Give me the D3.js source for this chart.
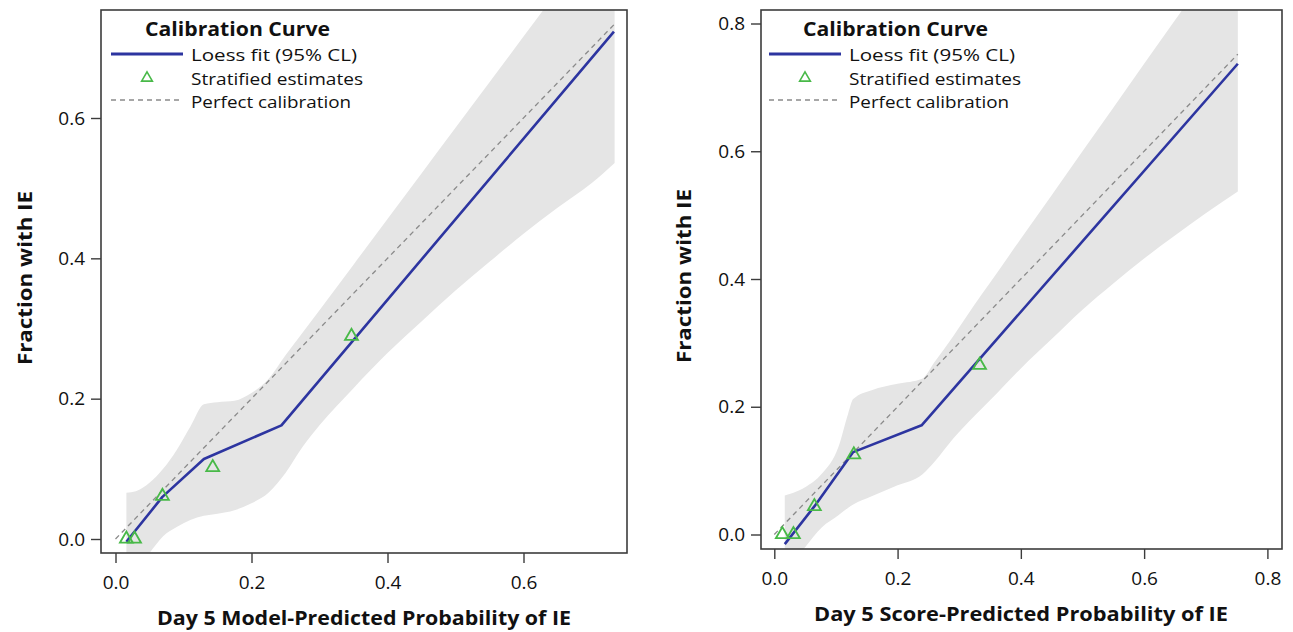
<!DOCTYPE html>
<html><head><meta charset="utf-8">
<script src="https://cdn.jsdelivr.net/npm/d3@7"></script>
<style>
body{margin:0;background:#fff;}
svg{display:block;font-family:"Open Sans",sans-serif;}
</style></head>
<body><svg id="c" width="1293" height="632"></svg>
<script>
// ---------- data ----------
const legendTitle = "Calibration Curve";
const legendLabels = ["Loess fit (95% CL)", "Stratified estimates", "Perfect calibration"];
const yTitle = "Fraction with IE";
const xTitleLeft = "Day 5 Model-Predicted Probability of IE";
const xTitleRight = "Day 5 Score-Predicted Probability of IE";

const xTicksLeft = [0, 0.2, 0.4, 0.6];
const yTicksLeft = [0, 0.2, 0.4, 0.6];
const xTicksRight = [0, 0.2, 0.4, 0.6, 0.8];
const yTicksRight = [0, 0.2, 0.4, 0.6, 0.8];

// Left panel (model)
const leftFitX = [0.016, 0.069, 0.130, 0.244, 0.733];
const leftFitY = [-0.004, 0.060, 0.114, 0.162, 0.723];
const leftPtsX = [0.016, 0.028, 0.069, 0.143, 0.347];
const leftPtsY = [0.0, 0.0, 0.061, 0.102, 0.289];
const leftBandX = [0.016, 0.03, 0.05, 0.07, 0.09, 0.11, 0.13, 0.15, 0.175, 0.20, 0.225, 0.25, 0.275, 0.30, 0.35, 0.40, 0.45, 0.50, 0.55, 0.60, 0.65, 0.70, 0.734];
const leftUpper = [0.066, 0.068, 0.080, 0.100, 0.127, 0.160, 0.192, 0.195, 0.197, 0.208, 0.228, 0.262, 0.294, 0.326, 0.391, 0.456, 0.521, 0.586, 0.651, 0.716, 0.781, 0.846, 0.890];
const leftLower = [-0.07, -0.045, -0.020, 0.004, 0.017, 0.027, 0.033, 0.036, 0.041, 0.051, 0.066, 0.094, 0.131, 0.162, 0.215, 0.265, 0.310, 0.354, 0.395, 0.435, 0.472, 0.507, 0.536];
const leftDiag = [0, 0.734];

// Right panel (score)
const rightFitX = [0.017, 0.065, 0.128, 0.239, 0.752];
const rightFitY = [-0.015, 0.044, 0.129, 0.171, 0.737];
const rightPtsX = [0.013, 0.031, 0.065, 0.129, 0.333];
const rightPtsY = [0.0, 0.0, 0.044, 0.125, 0.265];
const rightBandX = [0.017, 0.03, 0.05, 0.077, 0.104, 0.12, 0.128, 0.158, 0.20, 0.24, 0.26, 0.29, 0.325, 0.35, 0.40, 0.45, 0.50, 0.55, 0.60, 0.65, 0.70, 0.752];
const rightUpper = [0.061, 0.065, 0.074, 0.095, 0.137, 0.190, 0.212, 0.226, 0.236, 0.244, 0.270, 0.310, 0.360, 0.394, 0.463, 0.531, 0.600, 0.668, 0.737, 0.805, 0.874, 0.945];
const rightLower = [-0.07, -0.045, -0.020, 0.011, 0.030, 0.042, 0.047, 0.060, 0.077, 0.094, 0.114, 0.150, 0.186, 0.210, 0.260, 0.306, 0.352, 0.393, 0.432, 0.468, 0.503, 0.537];
const rightDiag = [0, 0.752];

// ---------- drawing ----------
const svg = d3.select("#c");
const BLUE = "#2d35a0", GREEN = "#48b948", BAND = "#e5e5e5", DASH = "#8a8a8a";

const panels = [
  {id:"L", frame:{l:101, r:627, t:10, b:553},
   x:d3.scaleLinear().domain([0,0.6]).range([115.5,523.5]),
   y:d3.scaleLinear().domain([0,0.6]).range([539,118]),
   xt:xTicksLeft, yt:yTicksLeft, fitX:leftFitX, fitY:leftFitY, ptsX:leftPtsX, ptsY:leftPtsY,
   bX:leftBandX, bU:leftUpper, bL:leftLower, diag:leftDiag, xTitle:xTitleLeft,
   xTitlePos:[364, 625], yTitlePos:[32, 278], legX:110},
  {id:"R", frame:{l:761, r:1282, t:10, b:549},
   x:d3.scaleLinear().domain([0,0.8]).range([774.3,1267.4]),
   y:d3.scaleLinear().domain([0,0.8]).range([534.5,23.5]),
   xt:xTicksRight, yt:yTicksRight, fitX:rightFitX, fitY:rightFitY, ptsX:rightPtsX, ptsY:rightPtsY,
   bX:rightBandX, bU:rightUpper, bL:rightLower, diag:rightDiag, xTitle:xTitleRight,
   xTitlePos:[1021, 621], yTitlePos:[691, 276], legX:768}
];

panels.forEach(p => {
  const f = p.frame, x = p.x, y = p.y;
  const g = svg.append("g");
  svg.append("clipPath").attr("id","clip"+p.id).append("rect")
    .attr("x",f.l).attr("y",f.t).attr("width",f.r-f.l).attr("height",f.b-f.t);
  const pg = g.append("g").attr("clip-path","url(#clip"+p.id+")");

  // band
  const band = p.bX.map((v,i)=>({x:v, lo:p.bL[i], hi:p.bU[i]}));
  pg.append("path").datum(band)
    .attr("d", d3.area().x(d=>x(d.x)).y0(d=>y(d.lo)).y1(d=>y(d.hi)).curve(d3.curveMonotoneX))
    .attr("fill", BAND);

  // perfect calibration
  pg.append("path").datum(p.diag)
    .attr("d", d3.line().x(d=>x(d)).y(d=>y(d)))
    .attr("stroke", DASH).attr("stroke-width",1.3).attr("stroke-dasharray","5,4").attr("fill","none");

  // loess fit
  const fit = p.fitX.map((v,i)=>[v,p.fitY[i]]);
  pg.append("path").datum(fit)
    .attr("d", d3.line().x(d=>x(d[0])).y(d=>y(d[1])))
    .attr("stroke", BLUE).attr("stroke-width",2.6).attr("fill","none").attr("stroke-linejoin","round");

  // stratified estimates
  const tri = d3.symbol().type(d3.symbolTriangle).size(72);
  g.selectAll(".pt").data(p.ptsX.map((v,i)=>[v,p.ptsY[i]])).join("path")
    .attr("transform", d=>`translate(${x(d[0])},${y(d[1])})`)
    .attr("d", tri).attr("fill","none").attr("stroke",GREEN).attr("stroke-width",1.8);

  // frame
  g.append("rect").attr("x",f.l).attr("y",f.t).attr("width",f.r-f.l).attr("height",f.b-f.t)
    .attr("fill","none").attr("stroke","#3c3c3c").attr("stroke-width",1.6);

  // axes
  const xa = g.append("g").attr("transform",`translate(0,${f.b})`)
    .call(d3.axisBottom(x).tickValues(p.xt).tickSize(10).tickPadding(13).tickFormat(d3.format(".1f")));
  const ya = g.append("g").attr("transform",`translate(${f.l},0)`)
    .call(d3.axisLeft(y).tickValues(p.yt).tickSize(10).tickPadding(6).tickFormat(d3.format(".1f")));
  [xa,ya].forEach(a=>{
    a.select(".domain").remove();
    a.selectAll("line").attr("stroke","#3c3c3c").attr("stroke-width",1.4);
    a.selectAll("text").attr("font-family","Open Sans").attr("font-size",19).attr("fill","#111");
  });

  // axis titles
  g.append("text").attr("x",p.xTitlePos[0]).attr("y",p.xTitlePos[1]).attr("text-anchor","middle")
    .attr("font-size",20).attr("font-weight","bold").attr("fill","#111")
    .attr("textLength",414).attr("lengthAdjust","spacingAndGlyphs").text(p.xTitle);
  g.append("text").attr("transform",`translate(${p.yTitlePos[0]},${p.yTitlePos[1]}) rotate(-90)`)
    .attr("text-anchor","middle").attr("font-size",20).attr("font-weight","bold").attr("fill","#111")
    .attr("textLength",174).attr("lengthAdjust","spacingAndGlyphs").text(yTitle);

  // legend
  const lx = p.legX;
  g.append("text").attr("x",lx+35).attr("y",36).attr("font-size",19.5).attr("font-weight","bold")
    .attr("fill","#111").attr("textLength",185).attr("lengthAdjust","spacingAndGlyphs").text(legendTitle);
  g.append("line").attr("x1",lx+1).attr("x2",lx+73).attr("y1",54).attr("y2",54)
    .attr("stroke",BLUE).attr("stroke-width",3);
  g.append("path").attr("transform",`translate(${lx+37},78)`).attr("d",d3.symbol().type(d3.symbolTriangle).size(50))
    .attr("fill","none").attr("stroke",GREEN).attr("stroke-width",1.6);
  g.append("line").attr("x1",lx+1).attr("x2",lx+73).attr("y1",100).attr("y2",100)
    .attr("stroke",DASH).attr("stroke-width",1.3).attr("stroke-dasharray","5,4");
  const lw = [166, 172, 160];
  [61, 84.5, 108].forEach((yy,i)=>{
    g.append("text").attr("x",lx+81).attr("y",yy).attr("font-size",17.2).attr("fill","#111")
      .attr("textLength",lw[i]).attr("lengthAdjust","spacingAndGlyphs").text(legendLabels[i]);
  });
});
</script></body></html>
